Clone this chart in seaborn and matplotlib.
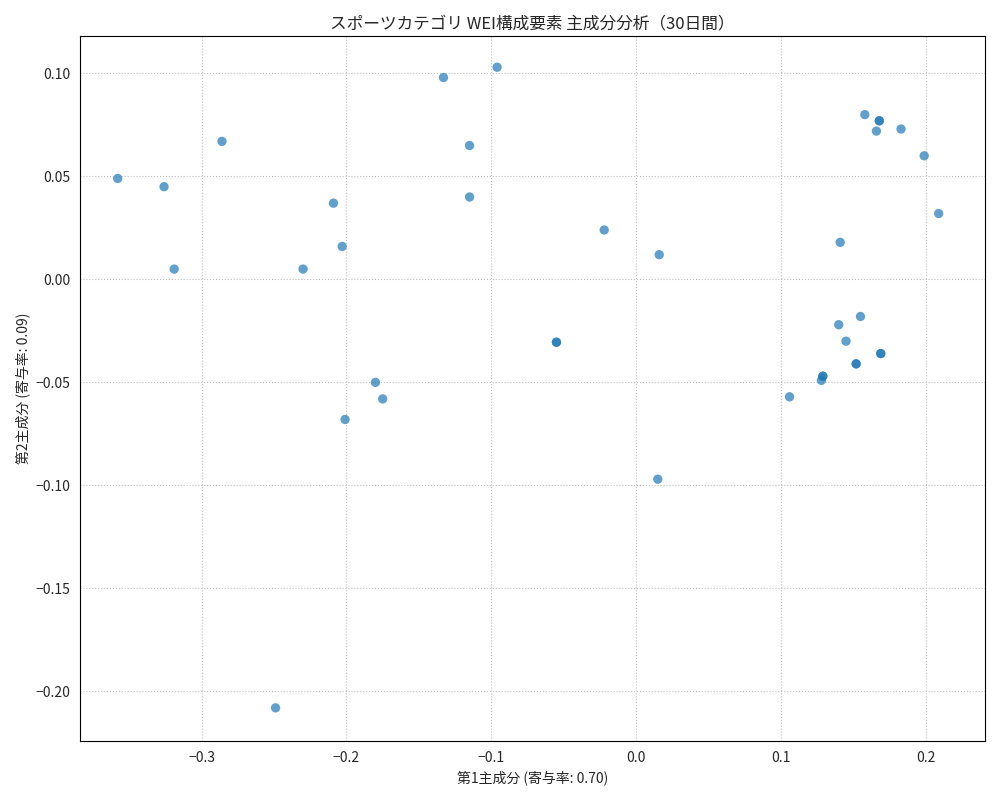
import matplotlib
matplotlib.use("Agg")
import matplotlib.pyplot as plt
import seaborn as sns
import pandas as pd

pc1 = [-0.358, -0.326, -0.319, -0.286, -0.249, -0.230, -0.209, -0.203, -0.201, -0.180,
       -0.175, -0.133, -0.115, -0.115, -0.096, -0.055, -0.055, -0.022, 0.016, 0.015,
       0.106, 0.128, 0.129, 0.129, 0.140, 0.141, 0.145, 0.152, 0.152, 0.155,
       0.158, 0.166, 0.168, 0.168, 0.169, 0.169, 0.183, 0.199, 0.209]
pc2 = [0.049, 0.045, 0.005, 0.067, -0.208, 0.005, 0.037, 0.016, -0.068, -0.050,
       -0.058, 0.098, 0.065, 0.040, 0.103, -0.0305, -0.0305, 0.024, 0.012, -0.097,
       -0.057, -0.049, -0.047, -0.047, -0.022, 0.018, -0.030, -0.041, -0.041, -0.018,
       0.080, 0.072, 0.077, 0.077, -0.036, -0.036, 0.073, 0.060, 0.032]

sns.set_style("white")
plt.rcParams['font.family'] = ['Noto Sans CJK JP', 'DejaVu Sans']
plt.rcParams['axes.unicode_minus'] = True

df = pd.DataFrame({"pc1": pc1, "pc2": pc2})
fig, ax = plt.subplots(figsize=(10, 8), dpi=100)
sns.scatterplot(data=df, x="pc1", y="pc2", ax=ax, color="#1f77b4", alpha=0.7,
                s=45, edgecolor="none")
ax.grid(True, linestyle=":", color="#b0b0b0", alpha=0.8)
ax.set_xlabel("第1主成分 (寄与率: 0.70)")
ax.set_ylabel("第2主成分 (寄与率: 0.09)")
ax.set_title("スポーツカテゴリ WEI構成要素 主成分分析（30日間）", fontsize=12)
ax.set_xlim(-0.384, 0.241)
ax.set_ylim(-0.224, 0.118)
for s in ax.spines.values():
    s.set_color("black")
fig.tight_layout()
fig.savefig("out.png")
